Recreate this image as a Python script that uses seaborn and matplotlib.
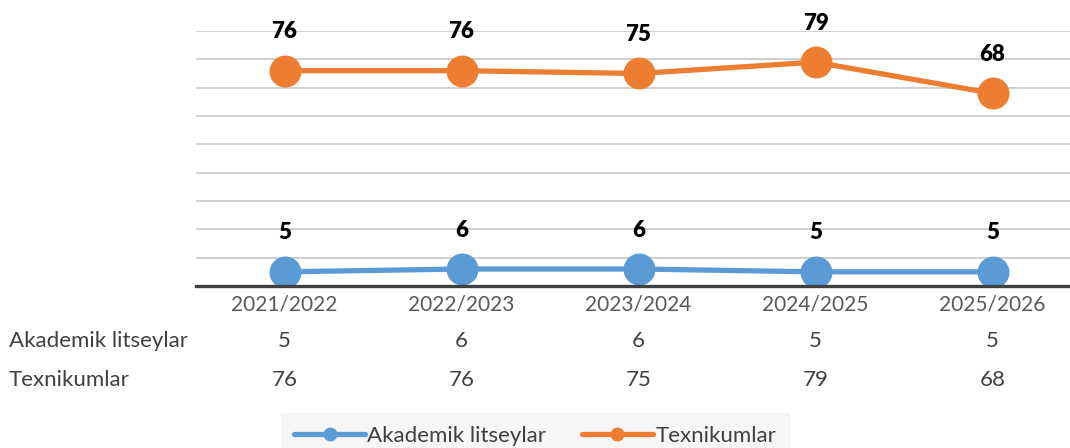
import pandas as pd
import matplotlib
matplotlib.use("Agg")
import matplotlib.pyplot as plt
import matplotlib.transforms as mtransforms
import seaborn as sns

sns.set_theme(style="white")
plt.rcParams['font.family'] = ['Lato', 'DejaVu Sans']

# data
years = ["2021/2022", "2022/2023", "2023/2024", "2024/2025", "2025/2026"]
akademik = [5, 6, 6, 5, 5]
texnikum = [76, 76, 75, 79, 68]
series_names = ["Akademik litseylar", "Texnikumlar"]
colors = {"Akademik litseylar": "#5B9BD5", "Texnikumlar": "#ED7D31"}

df = pd.DataFrame({
    "year": years * 2,
    "value": akademik + texnikum,
    "series": [series_names[0]] * len(years) + [series_names[1]] * len(years),
})

fig = plt.figure(figsize=(10.7, 4.48), dpi=100)
ax = fig.add_axes([196 / 1070, 1 - 286 / 448, 885 / 1070, 255 / 448])

sns.lineplot(data=df, x="year", y="value", hue="series", palette=colors,
             marker="o", markersize=23, markeredgewidth=0, linewidth=3.8,
             sort=False, ax=ax, legend=False)

ax.set_xlim(-0.5, len(years) - 0.5)
ax.set_ylim(0, 90)
ax.set_yticks(range(0, 91, 10))
ax.yaxis.grid(True, color="#cfcfcf", linewidth=1.4)
ax.set_axisbelow(True)
ax.tick_params(axis="y", left=False, labelleft=False)
ax.tick_params(axis="x", length=0, pad=6, labelsize=15, labelcolor="#595959")
ax.set_xlabel("")
ax.set_ylabel("")
for s in ["top", "right", "left"]:
    ax.spines[s].set_visible(False)
ax.spines["bottom"].set_color("#404040")
ax.spines["bottom"].set_linewidth(2.4)

# data labels
for name, vals in zip(series_names, [akademik, texnikum]):
    for i, v in enumerate(vals):
        ax.annotate(str(v), (i, v), xytext=(0, 28), textcoords="offset points",
                    ha="center", va="center", fontsize=16, fontweight="heavy",
                    color="black", annotation_clip=False)

# data table below the axis
trans = mtransforms.blended_transform_factory(ax.transData, ax.transAxes)
row_px = [341, 380]
for name, vals, py in zip(series_names, [akademik, texnikum], row_px):
    fig.text(9 / 1070, 1 - py / 448, name,
             ha="left", va="center", fontsize=16, color="#404040")
    ry = (286 - py) / 255
    for i, v in enumerate(vals):
        ax.text(i, ry, str(v), transform=trans, ha="center", va="center",
                fontsize=16, color="#404040", clip_on=False)

# legend
handles = [plt.Line2D([], [], color=colors[n], linewidth=3.8, marker="o",
                      markersize=9) for n in series_names]
leg = fig.legend(handles, series_names, loc="center",
                 bbox_to_anchor=(535 / 1070, 1 - 436 / 448), ncol=2,
                 frameon=True, fontsize=16, handlelength=3.2, handletextpad=0.1,
                 columnspacing=1.6, borderpad=0.6)
leg.get_frame().set_facecolor("#f4f4f4")
leg.get_frame().set_edgecolor("#f4f4f4")
leg.get_frame().set_boxstyle("square", pad=0)
for t in leg.get_texts():
    t.set_color("#404040")

fig.savefig("out.png", dpi=100)
